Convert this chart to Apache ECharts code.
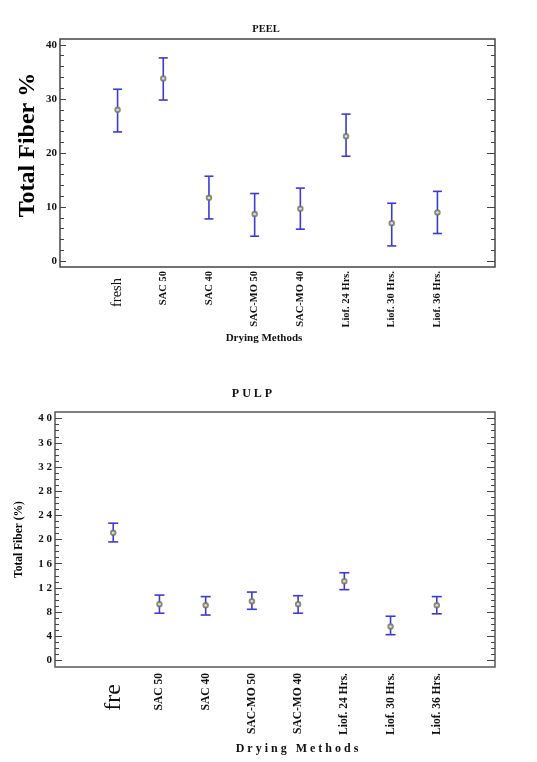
<!DOCTYPE html>
<html>
<head>
<meta charset="utf-8">
<script src="https://cdn.jsdelivr.net/npm/echarts@6/dist/echarts.min.js"></script>
<style>
html,body{margin:0;padding:0;background:#fff;}
#main{width:537px;height:762px;}
</style>
</head>
<body>
<div id="main"></div>
<script>
// drying methods on the x axis
var peelMethods = ['fresh','SAC 50','SAC 40','SAC-MO 50','SAC-MO 40','Liof. 24 Hrs.','Liof. 30 Hrs.','Liof. 36 Hrs.'];
var pulpMethods = ['fre','SAC 50','SAC 40','SAC-MO 50','SAC-MO 40','Liof. 24 Hrs.','Liof. 30 Hrs.','Liof. 36 Hrs.'];

// PEEL: means and interval ends (Total Fiber %)
var peelMean = [28.0, 33.8, 11.7, 8.7, 9.7, 23.1, 7.0, 9.0];
var peelLow  = [23.9, 29.8, 7.8, 4.6, 5.9, 19.4, 2.8, 5.1];
var peelHigh = [31.8, 37.6, 15.7, 12.5, 13.5, 27.2, 10.7, 12.9];

// PULP
var pulpMean = [21.1, 9.3, 9.1, 9.8, 9.3, 13.1, 5.6, 9.1];
var pulpLow  = [19.6, 7.8, 7.5, 8.45, 7.8, 11.7, 4.25, 7.7];
var pulpHigh = [22.7, 10.8, 10.55, 11.3, 10.7, 14.5, 7.3, 10.55];

// tick labels
var peelTicks = [0, 10, 20, 30, 40];
var pulpTicks = [0, 4, 8, 12, 16, 20, 24, 28, 32, 36, 40];
var catPos = [0, 1, 2, 3, 4, 5, 6, 7];

var peelMinor = [], pulpMinor = [];
for (var k = 0; k <= 40; k++) {
    pulpMinor.push(k);
    if (k % 2 === 0) peelMinor.push(k);
}

var serif = 'Liberation Serif';
var barColor = '#3a3ad4';
var dotColor = '#707055';

var chart = echarts.init(document.getElementById('main'));

function yAx(grid, pos, ticks, len, labels, fmt, fontSize, name, nameSize, nameGap, namePad) {
    return {
        type: 'value', gridIndex: grid, position: pos,
        min: -1.1, max: 41.1,
        axisLine: {show: false, onZero: false},
        splitLine: {show: false},
        axisTick: {show: true, inside: true, length: len, customValues: ticks,
            lineStyle: {color: '#444', width: 1}},
        axisLabel: labels ? {show: true, customValues: labels, formatter: fmt, margin: 3,
            fontFamily: serif, fontWeight: 'bold', fontSize: fontSize, color: '#111'} : {show: false},
        name: name || '',
        nameLocation: 'middle',
        nameGap: nameGap || 0,
        nameMoveOverlap: false,
        nameTextStyle: {fontFamily: serif, fontWeight: 'bold', fontSize: nameSize || 12, color: '#000',
            padding: namePad || 0}
    };
}

function xAx(grid, names, small, big, bigPad, margin, name, nameSize, namePad, nameGap) {
    return {
        type: 'value', gridIndex: grid, min: -1.26, max: 8.26,
        axisLine: {show: false, onZero: false}, axisTick: {show: false}, splitLine: {show: false},
        axisLabel: {
            customValues: catPos, rotate: 90, margin: margin,
            formatter: function (v) {
                return v === 0 ? '{f|' + names[0] + '}' : '{b|' + names[v] + '}';
            },
            rich: {
                f: {fontFamily: serif, fontSize: big, color: '#111', padding: [0, bigPad, 0, 0]},
                b: {fontFamily: serif, fontSize: small, fontWeight: 'bold', color: '#111'}
            }
        },
        name: name, nameLocation: 'middle', nameGap: nameGap,
        nameTextStyle: {fontFamily: serif, fontWeight: 'bold', fontSize: nameSize, color: '#111', padding: namePad}
    };
}

function errorBars(xi, yi, low, high, cap) {
    return {
        type: 'custom', xAxisIndex: xi, yAxisIndex: yi, silent: true, z: 2,
        data: low.map(function (v, i) { return [i, v, high[i]]; }),
        encode: {x: 0, y: [1, 2]},
        renderItem: function (params, api) {
            var lo = api.coord([api.value(0), api.value(1)]);
            var hi = api.coord([api.value(0), api.value(2)]);
            var st = {stroke: barColor, lineWidth: 1.6};
            return {type: 'group', children: [
                {type: 'line', shape: {x1: lo[0], y1: lo[1], x2: hi[0], y2: hi[1]}, style: st},
                {type: 'line', shape: {x1: lo[0] - cap, y1: lo[1], x2: lo[0] + cap, y2: lo[1]}, style: st},
                {type: 'line', shape: {x1: hi[0] - cap, y1: hi[1], x2: hi[0] + cap, y2: hi[1]}, style: st}
            ]};
        }
    };
}

function means(xi, yi, vals) {
    return {
        type: 'scatter', xAxisIndex: xi, yAxisIndex: yi, z: 3, silent: true,
        symbol: 'emptyCircle', symbolSize: 4.5,
        itemStyle: {color: dotColor, borderColor: dotColor, borderWidth: 1},
        data: vals.map(function (v, i) { return [i, v]; })
    };
}

var option = {
    animation: false,
    graphic: [
        {type: 'text', x: 266, y: 29, style: {text: 'PEEL', fontFamily: serif, fontWeight: 'bold',
            fontSize: 10.5, fill: '#111', textAlign: 'center', textVerticalAlign: 'middle'}},
        {type: 'text', x: 252, y: 394, style: {text: 'P U L P', fontFamily: serif, fontWeight: 'bold',
            fontSize: 12, fill: '#111', textAlign: 'center', textVerticalAlign: 'middle'}}
    ],
    grid: [
        {left: 60, top: 39, width: 435, height: 228, show: true, borderColor: '#444', borderWidth: 1.5, backgroundColor: '#fff'},
        {left: 55, top: 412, width: 440, height: 255, show: true, borderColor: '#555', borderWidth: 1.5, backgroundColor: '#fff'}
    ],
    xAxis: [
        xAx(0, peelMethods, 10.5, 14.5, 7, 4, 'Drying Methods', 11, [0, 27, 0, 0], 66),
        xAx(1, pulpMethods, 11.5, 24, 11, 6, 'D r y i n g   M e t h o d s', 12, [0, 0, 0, 44], 76)
    ],
    yAxis: [
        yAx(0, 'left', peelTicks, 6, peelTicks, null, 11, 'Total Fiber %', 24, 20, [0, 0, 0, 16]),
        yAx(0, 'left', peelMinor, 4),
        yAx(0, 'right', peelTicks, 8),
        yAx(0, 'right', peelMinor, 4),
        yAx(1, 'left', pulpTicks, 7, pulpTicks, function (v) { return String(v).split('').join(' '); }, 11, 'Total Fiber (%)', 11.5, 30),
        yAx(1, 'left', pulpMinor, 4),
        yAx(1, 'right', pulpTicks, 8),
        yAx(1, 'right', pulpMinor, 4)
    ],
    series: [
        errorBars(0, 0, peelLow, peelHigh, 4.5),
        means(0, 0, peelMean),
        errorBars(1, 4, pulpLow, pulpHigh, 5),
        means(1, 4, pulpMean)
    ]
};

chart.setOption(option);
</script>
</body>
</html>
